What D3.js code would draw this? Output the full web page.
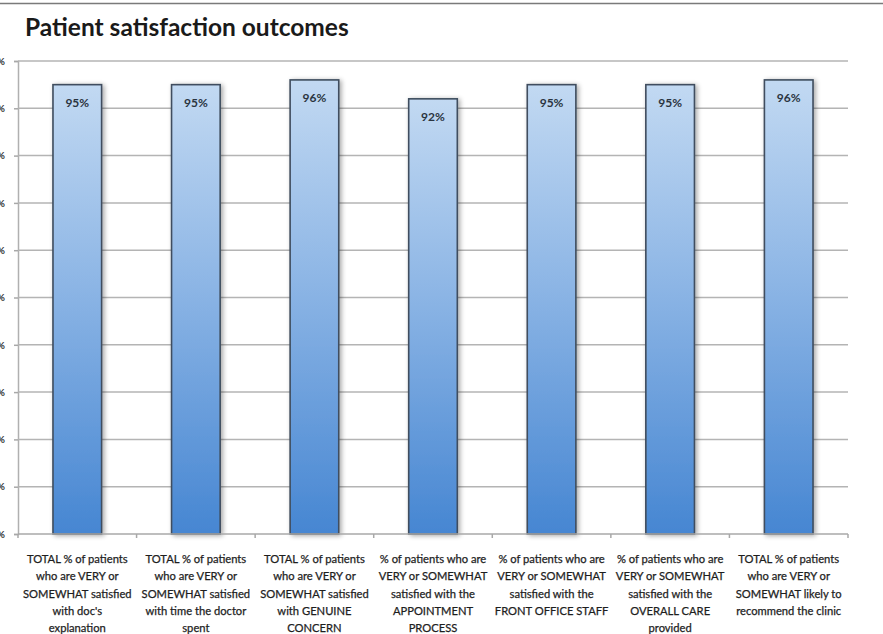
<!DOCTYPE html>
<html>
<head>
<meta charset="utf-8">
<script src="https://cdn.jsdelivr.net/npm/d3@7/dist/d3.min.js"></script>
<style>
  html, body { margin: 0; padding: 0; background: #fff; }
  svg { display: block; }
</style>
</head>
<body>
<svg id="chart" width="883" height="634"></svg>
<script>
// Survey outcomes: share of patients satisfied, per question
const categoryLines = [
  ["TOTAL % of patients", "who are VERY or", "SOMEWHAT satisfied", "with doc's", "explanation"],
  ["TOTAL % of patients", "who are VERY or", "SOMEWHAT satisfied", "with time the doctor", "spent"],
  ["TOTAL % of patients", "who are VERY or", "SOMEWHAT satisfied", "with GENUINE", "CONCERN"],
  ["% of patients who are", "VERY or SOMEWHAT", "satisfied with the", "APPOINTMENT", "PROCESS"],
  ["% of patients who are", "VERY or SOMEWHAT", "satisfied with the", "FRONT OFFICE STAFF"],
  ["% of patients who are", "VERY or SOMEWHAT", "satisfied with the", "OVERALL CARE", "provided"],
  ["TOTAL % of patients", "who are VERY or", "SOMEWHAT likely to", "recommend the clinic"]
];
const values = [95, 95, 96, 92, 95, 95, 96];
const yTicks = [0, 10, 20, 30, 40, 50, 60, 70, 80, 90, 100];
const title = "Patient satisfaction outcomes";

const svg = d3.select("#chart");
const W = 883, H = 634;
const plot = { left: 18, right: 848, top: 61, bottom: 534 };

const x = d3.scaleBand()
  .domain(d3.range(values.length))
  .range([plot.left, plot.right])
  .paddingInner(0.59)
  .paddingOuter(0.295);

const y = d3.scaleLinear().domain([0, 100]).range([plot.bottom, plot.top]);

const defs = svg.append("defs");
const grad = defs.append("linearGradient")
  .attr("id", "barFill").attr("x1", 0).attr("y1", 0).attr("x2", 0).attr("y2", 1);
grad.append("stop").attr("offset", "0%").attr("stop-color", "#c2d9f2");
grad.append("stop").attr("offset", "45%").attr("stop-color", "#8cb5e5");
grad.append("stop").attr("offset", "100%").attr("stop-color", "#4686d2");

const shadow = defs.append("filter").attr("id", "soft")
  .attr("x", "-30%").attr("y", "-10%").attr("width", "160%").attr("height", "120%");
shadow.append("feGaussianBlur").attr("in", "SourceAlpha").attr("stdDeviation", 2.5).attr("result", "b");
shadow.append("feOffset").attr("in", "b").attr("dx", 2).attr("dy", 1).attr("result", "o");
shadow.append("feComponentTransfer").attr("in", "o").attr("result", "s")
  .append("feFuncA").attr("type", "linear").attr("slope", 0.35);
const merge = shadow.append("feMerge");
merge.append("feMergeNode").attr("in", "s");
merge.append("feMergeNode").attr("in", "SourceGraphic");

// frame line along the top
svg.append("line")
  .attr("x1", 0).attr("x2", W).attr("y1", 3.5).attr("y2", 3.5)
  .attr("stroke", "#7a7a7a").attr("stroke-width", 1.5);

// title
svg.append("text")
  .attr("x", 25).attr("y", 36)
  .attr("font-family", "Lato, 'Open Sans', sans-serif")
  .attr("font-weight", "bold")
  .attr("font-size", 24.5)
  .attr("fill", "#1a1a1a")
  .text(title);

// y axis with gridlines
const yAxis = svg.append("g")
  .attr("transform", `translate(${plot.left},0)`)
  .call(d3.axisLeft(y).tickValues(yTicks).tickSize(4).tickFormat(d => d + "%"));
yAxis.select(".domain").attr("stroke", "#b0b0b0").attr("stroke-width", 1.5);
yAxis.selectAll(".tick line").attr("stroke", "#a8a8a8").attr("stroke-width", 1.5);
yAxis.selectAll(".tick text")
  .attr("x", -13)
  .attr("font-family", "Lato, sans-serif")
  .attr("font-weight", "bold")
  .attr("font-size", 10)
  .attr("fill", "#333");

svg.append("g")
  .selectAll("line")
  .data(yTicks.filter(t => t > 0))
  .join("line")
  .attr("x1", plot.left).attr("x2", plot.right)
  .attr("y1", d => y(d)).attr("y2", d => y(d))
  .attr("stroke", "#b4b4b4").attr("stroke-width", 1.5);

// bars
svg.append("g")
  .selectAll("rect")
  .data(values)
  .join("rect")
  .attr("x", (d, i) => x(i))
  .attr("y", d => y(d))
  .attr("width", x.bandwidth())
  .attr("height", d => y(0) - y(d))
  .attr("fill", "url(#barFill)")
  .attr("stroke", "#3f4d5e")
  .attr("stroke-width", 1.6)
  .attr("filter", "url(#soft)");

// value labels inside the bar tops
svg.append("g")
  .selectAll("text")
  .data(values)
  .join("text")
  .attr("x", (d, i) => x(i) + x.bandwidth() / 2)
  .attr("y", d => y(d) + 22)
  .attr("text-anchor", "middle")
  .attr("font-family", "Lato, sans-serif")
  .attr("font-weight", "bold")
  .attr("font-size", 12)
  .attr("fill", "#2a3440")
  .text(d => d + "%");

// x axis
const xAxisG = svg.append("g").attr("transform", `translate(0,${plot.bottom})`);
xAxisG.append("line")
  .attr("x1", plot.left).attr("x2", plot.right)
  .attr("stroke", "#a8a8a8").attr("stroke-width", 1.5);
xAxisG.selectAll("line.tick")
  .data(d3.range(values.length + 1))
  .join("line")
  .attr("class", "tick")
  .attr("x1", i => plot.left + i * (plot.right - plot.left) / values.length)
  .attr("x2", i => plot.left + i * (plot.right - plot.left) / values.length)
  .attr("y1", 0).attr("y2", 4)
  .attr("stroke", "#a8a8a8").attr("stroke-width", 1.5);

// category labels
const labels = svg.append("g")
  .selectAll("text")
  .data(categoryLines)
  .join("text")
  .attr("text-anchor", "middle")
  .attr("font-family", "Lato, sans-serif")
  .attr("font-size", 11.2)
  .attr("fill", "#1e1e1e")
  .attr("stroke", "#1e1e1e")
  .attr("stroke-width", 0.25)
  .attr("transform", (d, i) => `translate(${x(i) + x.bandwidth() / 2},${plot.bottom + 29})`);
labels.selectAll("tspan")
  .data(d => d)
  .join("tspan")
  .attr("x", 0)
  .attr("dy", (d, j) => j === 0 ? 0 : 17.3)
  .text(d => d);
</script>
</body>
</html>
